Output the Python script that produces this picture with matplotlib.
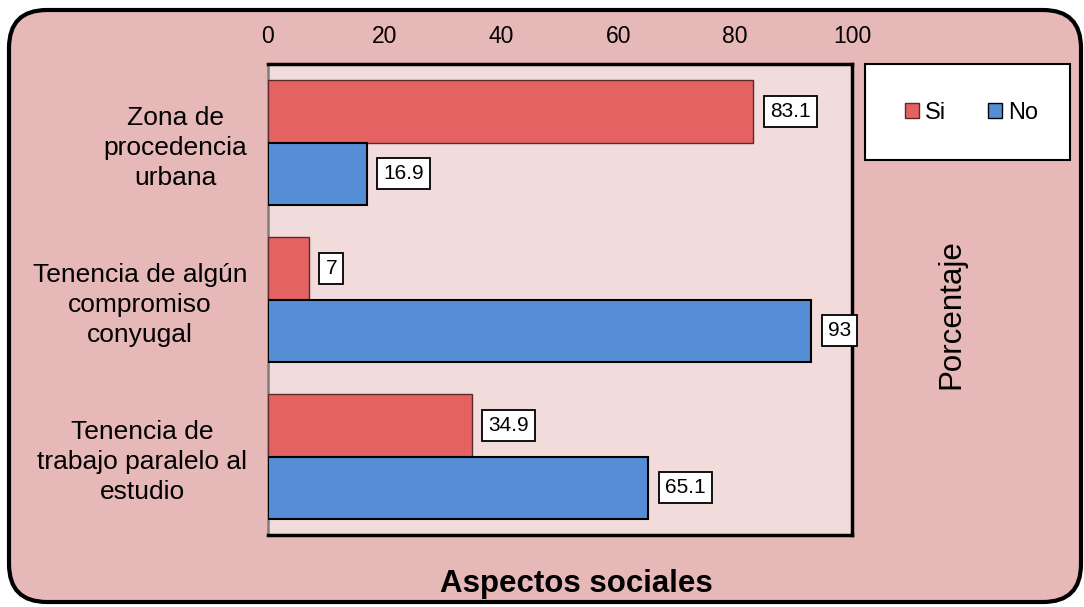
import matplotlib
matplotlib.use("Agg")
import matplotlib.pyplot as plt
import numpy as np
from matplotlib.patches import FancyBboxPatch, Rectangle, Patch

plt.rcParams['font.family'] = ['Liberation Sans', 'DejaVu Sans']

categories = ["Zona de\nprocedencia\nurbana",
              "Tenencia de algún\ncompromiso\nconyugal",
              "Tenencia de\ntrabajo paralelo al\nestudio"]
si_values = [83.1, 7, 34.9]
no_values = [16.9, 93, 65.1]
si_labels = ["83.1", "7", "34.9"]
no_labels = ["16.9", "93", "65.1"]
x_ticks = [0, 20, 40, 60, 80, 100]

W, H = 1084, 607
fig = plt.figure(figsize=(W / 100, H / 100), dpi=100, facecolor="white")

# rounded outer frame, kept beneath the axes
frame = FancyBboxPatch((9 / W, 1 - 602 / H), (1081 - 9) / W, (602 - 10) / H,
                       boxstyle="round,pad=0,rounding_size=0.035",
                       transform=fig.transFigure, facecolor="#E6B8B7",
                       edgecolor="black", linewidth=3, mutation_aspect=W / H,
                       zorder=-5)
fig.add_artist(frame)

ax = fig.add_axes([268 / W, 1 - 535 / H, (852 - 268) / W, (535 - 64) / H])
ax.set_facecolor("#F2DCDB")
ax.set_zorder(1)

y = np.arange(len(categories))
h = 0.395
red = "#E46262"
blue = "#558ED5"
bars_si = ax.barh(y - h / 2, si_values, height=h, color=red,
                  edgecolor="#5a2a2a", linewidth=1.0, zorder=3)
bars_no = ax.barh(y + h / 2, no_values, height=h, color=blue,
                  edgecolor="black", linewidth=1.5, zorder=3)

box = dict(boxstyle="square,pad=0.3", facecolor="white", edgecolor="black", linewidth=1.3)
for bars, labels in ((bars_si, si_labels), (bars_no, no_labels)):
    for bar, lab in zip(bars, labels):
        ax.annotate(lab, (bar.get_width(), bar.get_y() + bar.get_height() / 2),
                    xytext=(12, 0), textcoords="offset points",
                    ha="left", va="center", fontsize=15, bbox=box, zorder=5,
                    annotation_clip=False)

ax.set_xlim(0, 100)
ax.set_ylim(2.5, -0.5)
ax.set_xticks(x_ticks)
ax.set_xticklabels([str(t) for t in x_ticks])
ax.tick_params(axis="x", top=True, labeltop=True, bottom=False, labelbottom=False,
               length=0, pad=11.5, labelsize=16.5)
ax.set_yticks(y)
ax.set_yticklabels(categories, fontsize=19, multialignment="center", linespacing=1.31)
ax.tick_params(axis="y", length=0, pad=15)

for side in ("top", "right", "bottom"):
    ax.spines[side].set_color("black")
    ax.spines[side].set_linewidth(2.5)
ax.spines["left"].set_color("#7f7f7f")
ax.spines["left"].set_linewidth(1.8)

# legend panel
legend_box = Rectangle((865 / W, 1 - 160 / H), (1070 - 865) / W, (160 - 64) / H,
                       transform=fig.transFigure, facecolor="white",
                       edgecolor="black", linewidth=1.5, zorder=2)
fig.add_artist(legend_box)
handles = [Patch(facecolor=red, edgecolor="#5a2a2a", label="Si"),
           Patch(facecolor=blue, edgecolor="black", label="No")]
leg = fig.legend(handles=handles, loc="center", bbox_to_anchor=(971.5 / W, 1 - 113 / H),
                 ncol=2, frameon=False, fontsize=17, handlelength=0.6, handleheight=0.6,
                 handletextpad=0.25, columnspacing=1.8)
leg.set_zorder(3)

fig.text(951 / W, 1 - 314 / H, "Porcentaje", rotation=90, ha="center", va="center",
         fontsize=22.5)
fig.text(576 / W, 1 - 584 / H, "Aspectos sociales", ha="center", va="center",
         fontsize=22.5, fontweight="bold")

fig.savefig("out.png", dpi=100, facecolor="white")
